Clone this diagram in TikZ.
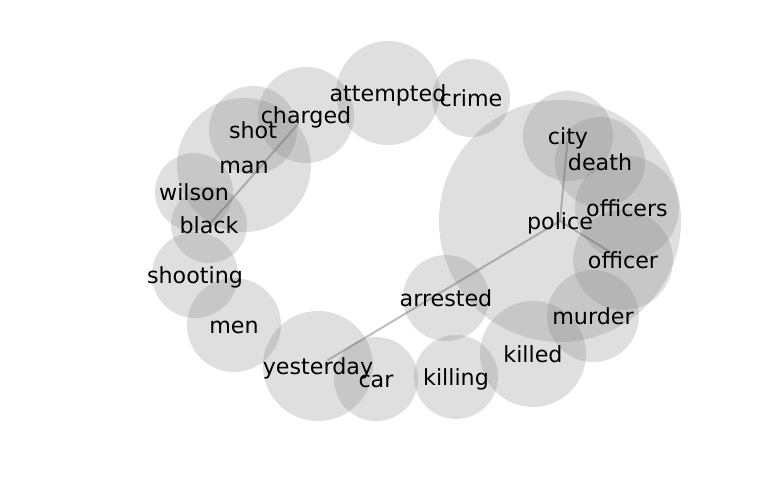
\documentclass[tikz,border=0pt]{standalone}
\usepackage{fontspec}
\setmainfont{DejaVu Sans}
\begin{document}
\begin{tikzpicture}[x=1pt,y=-1pt,
  bubble/.style={circle,draw=none,fill={rgb,255:red,128;green,128;blue,128},fill opacity=0.25,inner sep=0pt,minimum size=#1},
  lbl/.style={font=\fontsize{22.2}{26}\selectfont,text=black,inner sep=0pt,text height=0.78em,text depth=0.2em,anchor=center,yshift=-6pt},
  edge/.style={draw={rgb,255:red,110;green,110;blue,110},draw opacity=0.45,line width=2pt}]
\useasboundingbox (0,0) rectangle (768,500);
% bubbles
\node[bubble=104pt] (attempted) at (388,93) {};
\node[bubble=78pt] (crime) at (471,98) {};
\node[bubble=96pt] (charged) at (306,115) {};
\node[bubble=88pt] (shot) at (253,130) {};
\node[bubble=134pt] (man) at (244,165) {};
\node[bubble=78pt] (wilson) at (194,192) {};
\node[bubble=76pt] (black) at (209,225) {};
\node[bubble=86pt] (shooting) at (195,275) {};
\node[bubble=94pt] (men) at (234,325) {};
\node[bubble=110pt] (yesterday) at (318,366) {};
\node[bubble=84pt] (car) at (376,379) {};
\node[bubble=84pt] (killing) at (456,377) {};
\node[bubble=106pt] (killed) at (533,354) {};
\node[bubble=92pt] (murder) at (593,316) {};
\node[bubble=86pt] (arrested) at (446,298) {};
\node[bubble=242pt] (police) at (560,221) {};
\node[bubble=90pt] (city) at (568,136) {};
\node[bubble=90pt] (death) at (600,162) {};
\node[bubble=104pt] (officers) at (627,208) {};
\node[bubble=100pt] (officer) at (623,260) {};
% edges
\draw[edge,shorten <=11pt,shorten >=4pt] (charged.center) -- (black.center);
\draw[edge,shorten >=6pt] (police.center) -- (city.center);
\draw[edge,shorten >=15pt] (police.center) -- (officer.center);
\draw[edge,shorten >=11pt] (police.center) -- (yesterday.center);
% labels
\node[lbl] at (attempted) {attempted};
\node[lbl] at (crime) {crime};
\node[lbl] at (charged) {charged};
\node[lbl] at (shot) {shot};
\node[lbl] at (man) {man};
\node[lbl] at (wilson) {wilson};
\node[lbl] at (black) {black};
\node[lbl] at (shooting) {shooting};
\node[lbl] at (men) {men};
\node[lbl] at (yesterday) {yesterday};
\node[lbl] at (car) {car};
\node[lbl] at (killing) {killing};
\node[lbl] at (killed) {killed};
\node[lbl] at (murder) {murder};
\node[lbl] at (arrested) {arrested};
\node[lbl] at (police) {police};
\node[lbl] at (city) {city};
\node[lbl] at (death) {death};
\node[lbl] at (officers) {officers};
\node[lbl] at (officer) {officer};
\end{tikzpicture}
\end{document}
